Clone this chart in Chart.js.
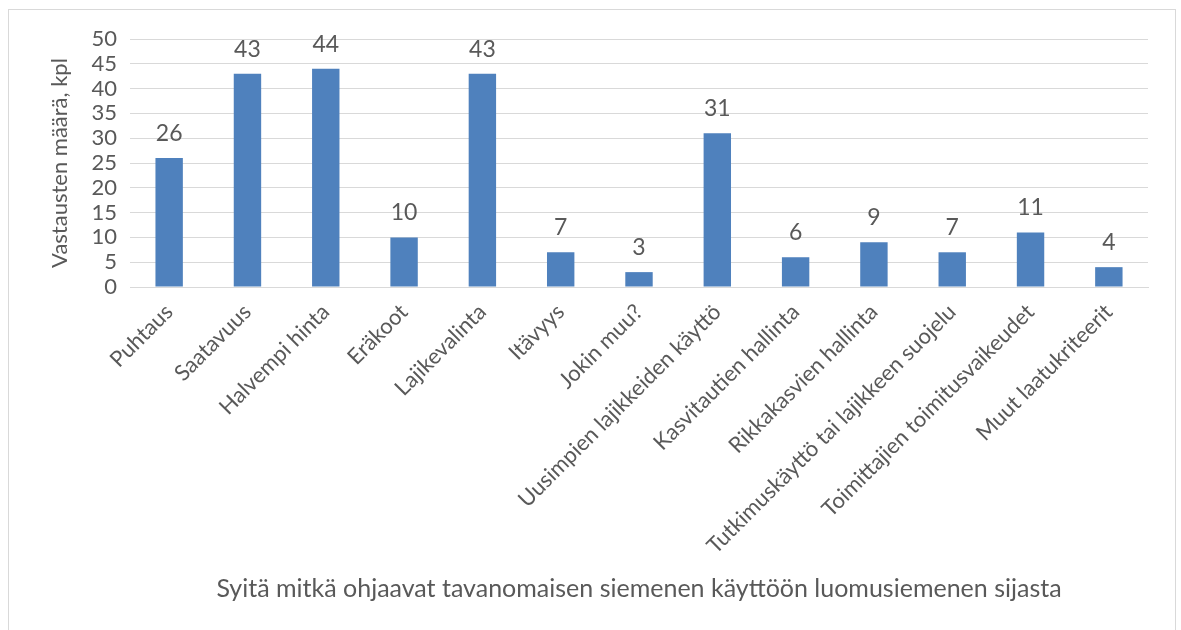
<!DOCTYPE html>
<html>
<head>
<meta charset="utf-8">
<script src="https://cdn.jsdelivr.net/npm/chart.js@4/dist/chart.umd.min.js"></script>
<style>
  html, body { margin: 0; padding: 0; background: #fff; overflow: hidden; }
  #frame {
    position: absolute; left: 8px; top: 9px;
    width: 1168px; height: 640px;
    border: 1px solid #d9d9d9; box-sizing: border-box;
  }
  #chart { position: absolute; left: 0; top: 0; }
</style>
</head>
<body>
<div id="frame"><canvas id="chart" width="1166" height="638"></canvas></div>
<script>
const categories = [
  "Puhtaus", "Saatavuus", "Halvempi hinta", "Eräkoot", "Lajikevalinta",
  "Itävyys", "Jokin muu?", "Uusimpien lajikkeiden käyttö", "Kasvitautien hallinta",
  "Rikkakasvien hallinta", "Tutkimuskäyttö tai lajikkeen suojelu",
  "Toimittajien toimitusvaikeudet", "Muut laatukriteerit"
];
const answers = [26, 43, 44, 10, 43, 7, 3, 31, 6, 9, 7, 11, 4];
const yTicks = [0, 5, 10, 15, 20, 25, 30, 35, 40, 45, 50];

const FONT = "Lato, 'Open Sans', sans-serif";
const TEXT = "#595959";

// draws the value above each bar
const valueLabels = {
  id: "valueLabels",
  afterDatasetsDraw(chart) {
    const ctx = chart.ctx;
    ctx.save();
    ctx.font = "23px " + FONT;
    ctx.fillStyle = TEXT;
    ctx.textAlign = "center";
    ctx.textBaseline = "bottom";
    chart.getDatasetMeta(0).data.forEach((bar, i) => {
      ctx.fillText(chart.data.datasets[0].data[i], bar.x, bar.y - 13);
    });
    ctx.restore();
  }
};

new Chart(document.getElementById("chart"), {
  type: "bar",
  data: {
    labels: categories,
    datasets: [{
      data: answers,
      backgroundColor: "#4f81bd",
      barPercentage: 0.7,
      categoryPercentage: 0.5
    }]
  },
  options: {
    responsive: false,
    animation: false,
    layout: { padding: { top: 29, right: 27, left: 0, bottom: 0 } },
    plugins: { legend: { display: false }, tooltip: { enabled: false } },
    scales: {
      x: {
        grid: { display: false },
        border: { color: "#d9d9d9", width: 1 },
        ticks: {
          color: TEXT, font: { family: FONT, size: 22 },
          minRotation: 45, maxRotation: 45, autoSkip: false, padding: 4
        },
        title: {
          display: true,
          text: "Syitä mitkä ohjaavat tavanomaisen siemenen käyttöön luomusiemenen sijasta",
          color: TEXT, font: { family: FONT, size: 25 },
          padding: { top: 0, bottom: 44 }
        },
        afterFit(scale) { scale.height = 638 - 277; }
      },
      y: {
        min: 0, max: 50,
        afterBuildTicks(scale) { scale.ticks = yTicks.map(v => ({ value: v })); },
        grid: { color: "#d9d9d9", lineWidth: 1, drawTicks: false },
        border: { display: false },
        ticks: { color: TEXT, font: { family: FONT, size: 22 }, padding: 13, autoSkip: false },
        title: {
          display: true, text: "Vastausten määrä, kpl",
          color: TEXT, font: { family: FONT, size: 22 },
          padding: { top: 38, bottom: 0 }
        },
        afterFit(scale) { scale.width = 121; }
      }
    }
  },
  plugins: [valueLabels]
});
</script>
</body>
</html>
